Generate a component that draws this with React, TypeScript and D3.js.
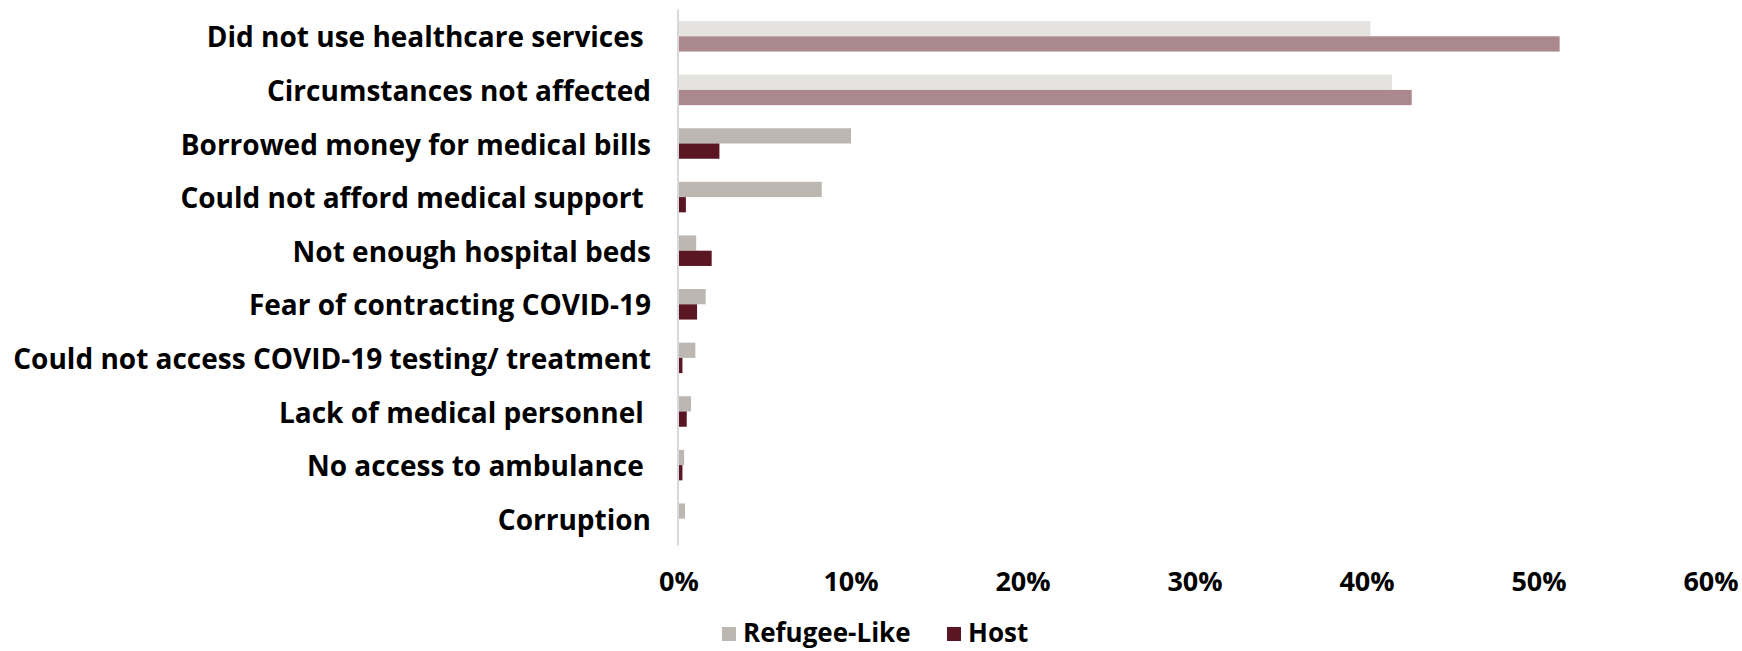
import React from "react";
import * as d3 from "d3";

const categories = [
  "Did not use healthcare services ",
  "Circumstances not affected",
  "Borrowed money for medical bills",
  "Could not afford medical support ",
  "Not enough hospital beds",
  "Fear of contracting COVID-19",
  "Could not access COVID-19 testing/ treatment",
  "Lack of medical personnel ",
  "No access to ambulance ",
  "Corruption",
];
const refugeeLike = [40.2, 41.45, 10.0, 8.3, 1.0, 1.55, 0.95, 0.7, 0.3, 0.35];
const host = [51.2, 42.6, 2.35, 0.4, 1.9, 1.05, 0.2, 0.45, 0.2, 0];
const xTicks = [0, 10, 20, 30, 40, 50, 60];
const seriesNames = ["Refugee-Like", "Host"];

const W = 1742;
const H = 651;
const FONT = "'Open Sans', 'Segoe UI', Lato, sans-serif";

const colors = {
  refugee: "#bcb7b1",
  host: "#5b1624",
  refugeeLight: "#e5e3e0",
  hostLight: "#ab888e",
};

export default function App() {
  const x = d3.scaleLinear().domain([0, 60]).range([679, 1711]);
  const y = d3
    .scaleBand<string>()
    .domain(categories)
    .range([9.5, 545.5])
    .paddingInner(0.431)
    .paddingOuter(0.2155);
  const inner = d3
    .scaleBand<string>()
    .domain(seriesNames)
    .range([0, y.bandwidth()])
    .padding(0);

  const fillFor = (series: string, i: number) => {
    const light = i < 2;
    if (series === "Host") return light ? colors.hostLight : colors.host;
    return light ? colors.refugeeLight : colors.refugee;
  };

  const legendItems = [
    { name: seriesNames[0], color: colors.refugee, x: 722 },
    { name: seriesNames[1], color: colors.host, x: 947 },
  ];

  return (
    <svg
      width={W}
      height={H}
      style={{ position: "absolute", left: 0, top: 0, display: "block", background: "#fff" }}
      fontFamily={FONT}
    >
      {categories.map((c, i) => {
        const y0 = y(c)!;
        const vals = [refugeeLike[i], host[i]];
        return (
          <g key={c}>
            {seriesNames.map((s, j) => {
              const w = x(vals[j]) - x(0);
              if (w <= 0) return null;
              return (
                <rect
                  key={s}
                  x={x(0)}
                  y={y0 + inner(s)!}
                  width={w}
                  height={inner.bandwidth()}
                  fill={fillFor(s, i)}
                />
              );
            })}
            <text
              x={651}
              y={y0 + y.bandwidth() / 2}
              textAnchor="end"
              dominantBaseline="central"
              fontSize={28}
              fontWeight={700}
              fill="#000"
              style={{ whiteSpace: "pre" }}
            >
              {c}
            </text>
          </g>
        );
      })}
      <line x1={678} x2={678} y1={9.5} y2={545.5} stroke="#d9d9d9" strokeWidth={2} />
      {xTicks.map((t) => (
        <text
          key={t}
          x={x(t)}
          y={580}
          textAnchor="middle"
          dominantBaseline="central"
          fontSize={27}
          fontWeight={700}
          fill="#000"
        >
          {t}%
        </text>
      ))}
      {legendItems.map((it) => (
        <g key={it.name}>
          <rect x={it.x} y={627} width={14} height={14} fill={it.color} />
          <text
            x={it.x + 21}
            y={632}
            dominantBaseline="central"
            fontSize={26}
            fontWeight={700}
            fill="#000"
          >
            {it.name}
          </text>
        </g>
      ))}
    </svg>
  );
}
